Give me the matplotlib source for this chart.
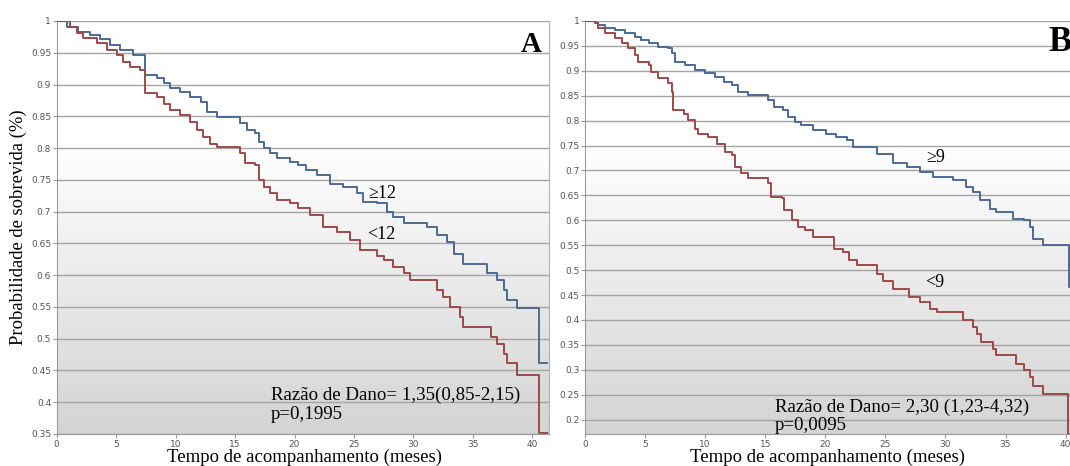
import matplotlib
matplotlib.use("Agg")
import matplotlib.pyplot as plt
import numpy as np

# painel A: >=12 / <12
a_hi_t = [0, 0.9, 1.8, 2.8, 3.6, 4.5, 5.3, 6.4, 7.4, 8.4, 9.0, 9.5, 10.4, 11.2, 12.1, 12.6, 13.5,
          15.4, 16.0, 16.7, 17.0, 17.4, 17.95, 18.5, 19.6, 20.3, 21.0, 21.9, 23.0, 24.1, 25.25, 25.8,
          26.9, 27.8, 28.3, 29.2, 31.1, 32.0, 32.8, 33.4, 34.2, 36.2, 37.0, 37.6, 37.9, 38.7, 40.6, 41.2]
a_hi_s = [1, 0.99, 0.983, 0.978, 0.971, 0.962, 0.954, 0.946, 0.915, 0.91, 0.902, 0.894, 0.888, 0.88,
          0.873, 0.857, 0.849, 0.839, 0.828, 0.823, 0.81, 0.80, 0.792, 0.784, 0.778, 0.773, 0.765, 0.757,
          0.744, 0.739, 0.729, 0.715, 0.713, 0.70, 0.692, 0.682, 0.676, 0.663, 0.652, 0.634, 0.618, 0.603,
          0.592, 0.576, 0.561, 0.548, 0.461, 0.461]
a_lo_t = [0, 1.1, 1.7, 2.2, 3.4, 4.2, 5.05, 5.6, 6.2, 7.0, 7.4, 8.4, 9.0, 9.5, 10.4, 11.2, 11.8, 12.3,
          12.9, 13.5, 15.4, 15.85, 16.7, 17.0, 17.4, 17.95, 18.5, 19.6, 20.3, 21.3, 22.4, 23.6, 24.7, 25.5,
          26.9, 27.5, 28.3, 29.2, 29.7, 32.0, 32.5, 33.1, 33.95, 34.2, 36.5, 37.0, 37.6, 37.9, 38.7, 40.6, 41.2]
a_lo_s = [1, 0.991, 0.981, 0.973, 0.965, 0.954, 0.946, 0.936, 0.928, 0.923, 0.887, 0.881, 0.870, 0.86,
          0.852, 0.841, 0.828, 0.818, 0.807, 0.802, 0.792, 0.776, 0.773, 0.75, 0.739, 0.729, 0.718, 0.713,
          0.705, 0.694, 0.676, 0.668, 0.655, 0.64, 0.63, 0.624, 0.613, 0.603, 0.593, 0.576, 0.566, 0.55,
          0.534, 0.518, 0.503, 0.492, 0.476, 0.461, 0.443, 0.351, 0.351]

# painel B: >=9 / <9
b_hi_t = [0, 0.9, 1.1, 1.66, 2.5, 3.3, 4.2, 4.7, 5.3, 6.1, 6.9, 7.2, 7.5, 8.3, 9.15, 10.0, 10.8, 11.6,
          12.2, 12.75, 13.6, 15.25, 15.7, 16.5, 16.9, 17.5, 18.0, 19.0, 20.1, 20.9, 21.8, 22.3, 24.3, 25.6,
          26.8, 27.9, 29.0, 30.6, 31.75, 32.3, 32.9, 33.7, 34.25, 35.6, 36.5, 37.0, 37.3, 38.1, 40.25, 41.0]
b_hi_s = [1, 0.995, 0.992, 0.985, 0.982, 0.975, 0.968, 0.962, 0.955, 0.948, 0.945, 0.935, 0.918, 0.912,
          0.902, 0.895, 0.888, 0.878, 0.871, 0.858, 0.851, 0.841, 0.828, 0.821, 0.808, 0.798, 0.791, 0.781,
          0.774, 0.767, 0.761, 0.747, 0.734, 0.714, 0.707, 0.697, 0.687, 0.680, 0.667, 0.657, 0.640, 0.623,
          0.617, 0.603, 0.60, 0.587, 0.563, 0.55, 0.466, 0.466]
b_lo_t = [0, 0.85, 1.1, 1.66, 2.5, 3.05, 3.6, 4.2, 4.4, 5.3, 5.5, 6.1, 6.9, 7.2, 7.35, 8.2, 8.6, 9.15, 9.4,
          10.26, 10.96, 11.65, 12.2, 12.5, 13.0, 13.6, 15.25, 15.5, 16.4, 16.6, 17.2, 17.7, 18.3, 19.0, 20.7,
          21.5, 22.0, 22.6, 24.3, 24.8, 25.6, 27.0, 27.9, 28.7, 29.3, 31.5, 32.3, 32.6, 33.0, 33.97, 34.25,
          35.9, 36.5, 37.0, 37.3, 38.1, 40.2, 41.0]
b_lo_s = [1, 0.995, 0.985, 0.975, 0.965, 0.955, 0.945, 0.932, 0.918, 0.912, 0.898, 0.885, 0.875, 0.858,
          0.821, 0.814, 0.801, 0.784, 0.774, 0.767, 0.754, 0.737, 0.731, 0.707, 0.694, 0.684, 0.674, 0.647,
          0.644, 0.620, 0.60, 0.587, 0.58, 0.566, 0.543, 0.536, 0.52, 0.51, 0.493, 0.479, 0.463, 0.446, 0.436,
          0.422, 0.416, 0.399, 0.386, 0.372, 0.355, 0.342, 0.329, 0.312, 0.299, 0.285, 0.268, 0.252, 0.171, 0.171]

a_yticks = [0.35, 0.4, 0.45, 0.5, 0.55, 0.6, 0.65, 0.7, 0.75, 0.8, 0.85, 0.9, 0.95, 1]
b_yticks = [0.2, 0.25, 0.3, 0.35, 0.4, 0.45, 0.5, 0.55, 0.6, 0.65, 0.7, 0.75, 0.8, 0.85, 0.9, 0.95, 1]
xticks = [0, 5, 10, 15, 20, 25, 30, 35, 40]

BLUE = "#4b6a93"
RED = "#9c4a47"
SERIF = ["Liberation Serif", "DejaVu Serif"]


def fmt(v):
    return "1" if v == 1 else ("%g" % v)


def setup(ax, ylim, xmax, yticks, xlab_x):
    ax.set_xlim(0, xmax)
    ax.set_ylim(*ylim)
    # fundo em degradê
    f = np.linspace(0, 1, 256)
    g = np.where(f < 0.3, 1.0, 1.0 - (f - 0.3) / 0.7 * 0.17)
    img = np.dstack([g, g, g]).reshape(256, 1, 3)
    ax.imshow(img, extent=[0, 1, 0, 1], transform=ax.transAxes, aspect="auto", zorder=0)
    ax.set_yticks(yticks)
    ax.set_yticklabels([fmt(v) for v in yticks])
    ax.set_xticks(xticks)
    for y in yticks:
        ax.axhline(y, color="#a3a3a3", lw=1.0, zorder=1)
    for s in ["left", "bottom"]:
        ax.spines[s].set_color("#9a9a9a")
    ax.spines["top"].set_visible(False)
    ax.spines["right"].set_color("#b0b0b0")
    ax.tick_params(labelsize=6.5, colors="#9a9a9a", labelcolor="#555555", length=3, width=0.8, pad=1)
    ax.set_xlabel("Tempo de acompanhamento (meses)", family=SERIF, fontsize=13.5)
    ax.xaxis.set_label_coords(xlab_x, -0.035)
    ax.xaxis.label.set_va("top")


fig = plt.figure(figsize=(10.7, 4.66), dpi=100)
axA = fig.add_axes([56.7 / 1070, 32 / 466, (549 - 56.7) / 1070, 413 / 466])
axB = fig.add_axes([585 / 1070, 32 / 466, (1080 - 585) / 1070, 413 / 466])

setup(axA, (0.35, 1.0), 41.4, a_yticks, 0.503)
setup(axB, (0.171, 1.0), 41.2, b_yticks, 0.49)

axA.step(a_hi_t, a_hi_s, where="post", color=BLUE, lw=1.4, zorder=3)
axA.step(a_lo_t, a_lo_s, where="post", color=RED, lw=1.4, zorder=3)
axB.step(b_hi_t, b_hi_s, where="post", color=BLUE, lw=1.4, zorder=3)
axB.step(b_lo_t, b_lo_s, where="post", color=RED, lw=1.4, zorder=3)

axA.set_ylabel("Probabilidade de sobrevida (%)", family=SERIF, fontsize=13.4, labelpad=3)

axA.text(26.2, 0.729, "≥12", family=SERIF, fontsize=13, va="center")
axA.text(26.1, 0.664, "<12", family=SERIF, fontsize=13, va="center")
axA.text(18.0, 0.396, "Razão de Dano= 1,35(0,85-2,15)\np=0,1995", family=SERIF, fontsize=13.6,
         va="center", linespacing=1.1)
axA.text(0.985, 0.975, "A", transform=axA.transAxes, family=SERIF, fontsize=21, weight="bold",
         ha="right", va="top")

axB.text(28.4, 0.727, "≥9", family=SERIF, fontsize=13, va="center")
axB.text(28.3, 0.476, "<9", family=SERIF, fontsize=13, va="center")
axB.text(15.8, 0.206, "Razão de Dano= 2,30 (1,23-4,32)\np=0,0095", family=SERIF, fontsize=13.6,
         va="center", linespacing=1.1)
axB.text(38.6, 0.99, "B", family=SERIF, fontsize=25, weight="bold", ha="left", va="top")

fig.savefig("out.png", dpi=100)
